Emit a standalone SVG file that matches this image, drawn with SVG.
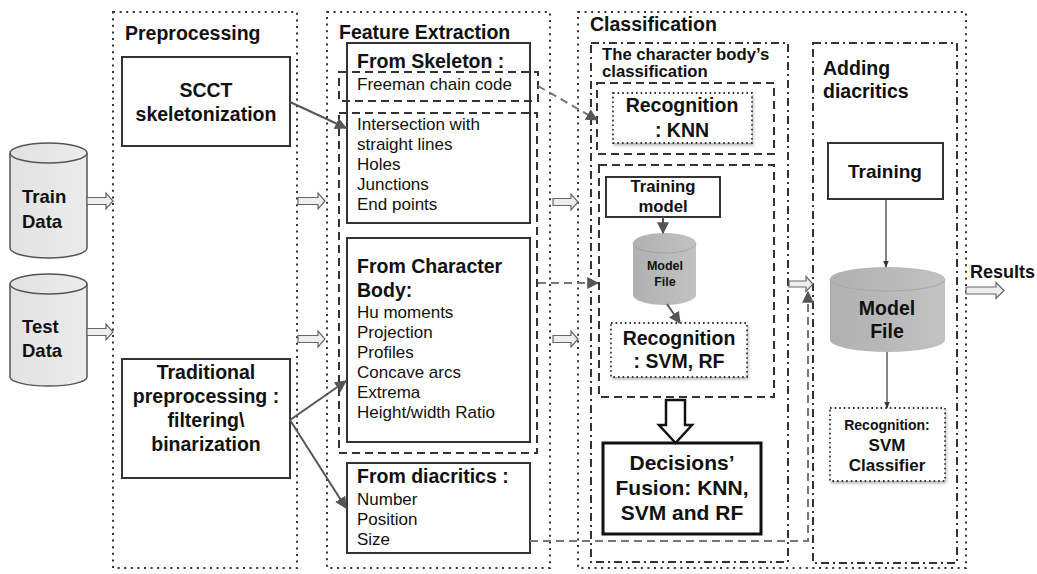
<svg xmlns="http://www.w3.org/2000/svg" width="1037" height="574" viewBox="0 0 1037 574">
  <style>
    text { font-family: "Liberation Sans", Arial, sans-serif; fill: #111; }
    .b { font-weight: bold; }
    .h { font-size: 19.5px; font-weight: bold; }
    .r { font-size: 17px; }
    .c { text-anchor: middle; }
    .stage { fill: none; stroke: #333; stroke-width: 2; stroke-dasharray: 2 4.6; }
    .solid { fill: #fff; stroke: #333; stroke-width: 2; }
    .dash { fill: none; stroke: #333; stroke-width: 2; stroke-dasharray: 8 5; }
    .dashdot { fill: none; stroke: #333; stroke-width: 2; stroke-dasharray: 8 4 2 4; }
    .rec { fill: #fff; stroke: #333; stroke-width: 1.8; stroke-dasharray: 1.6 3; filter: url(#shadow); }
    .hollow { fill: #eeeeee; stroke: #666; stroke-width: 1.2; }
    .link { fill: none; stroke: #555; stroke-width: 2; marker-end: url(#arrGray); }
    .thin { fill: none; stroke: #333; stroke-width: 1.2; marker-end: url(#arrBlack); }
    .glink { fill: none; stroke: #777; stroke-width: 2; stroke-dasharray: 8 5; marker-end: url(#arrGray); }
  </style>
  <defs>
    <marker id="arrGray" viewBox="0 0 10 10" refX="9" refY="5" markerWidth="6" markerHeight="6" orient="auto" markerUnits="strokeWidth">
      <path d="M0,0 L10,5 L0,10 Z" fill="#555"/>
    </marker>
    <marker id="arrBlack" viewBox="0 0 10 10" refX="9" refY="5" markerWidth="6" markerHeight="6" orient="auto" markerUnits="strokeWidth">
      <path d="M0,1 L10,5 L0,9 Z" fill="#333"/>
    </marker>
    <filter id="shadow" x="-10%" y="-10%" width="130%" height="140%">
      <feDropShadow dx="1" dy="2" stdDeviation="1.6" flood-color="#000" flood-opacity="0.3"/>
    </filter>
    <linearGradient id="lightCyl" x1="0" x2="1" y1="0" y2="0">
      <stop offset="0" stop-color="#e2e2e2"/>
      <stop offset="1" stop-color="#ececec"/>
    </linearGradient>
    <linearGradient id="darkCyl" x1="0" x2="1" y1="0" y2="0">
      <stop offset="0" stop-color="#b0b0b0"/>
      <stop offset="1" stop-color="#c2c2c2"/>
    </linearGradient>
  </defs>

  <!-- stage frames -->
  <g id="preprocessing">
    <rect class="stage" x="113" y="12" width="184" height="556"/>
    <text class="h" x="125" y="40">Preprocessing</text>
  </g>
  <g id="feature-extraction">
    <rect class="stage" x="327" y="12" width="223" height="556"/>
    <text class="h" x="339" y="39">Feature Extraction</text>
  </g>
  <g id="classification">
    <rect class="stage" x="578" y="12" width="388" height="556"/>
    <text class="h" x="590" y="31">Classification</text>
  </g>

  <!-- input data -->
  <g id="train-data">
    <path d="M10,153 A38.5,10 0 0 1 87,153 V248 A38.5,10 0 0 1 10,248 Z" fill="url(#lightCyl)" stroke="#555" stroke-width="1.5"/>
    <path d="M10,153 A38.5,10 0 0 0 87,153" fill="none" stroke="#555" stroke-width="1.5"/>
    <text class="b" x="22" y="203" font-size="18.5">Train</text>
    <text class="b" x="22" y="228" font-size="18.5">Data</text>
  </g>
  <g id="test-data">
    <path d="M10,284 A38.5,10 0 0 1 87,284 V377 A38.5,9 0 0 1 10,377 Z" fill="url(#lightCyl)" stroke="#555" stroke-width="1.5"/>
    <path d="M10,284 A38.5,10 0 0 0 87,284" fill="none" stroke="#555" stroke-width="1.5"/>
    <text class="b" x="22" y="333" font-size="18.5">Test</text>
    <text class="b" x="22" y="357" font-size="18.5">Data</text>
  </g>

  <!-- preprocessing steps -->
  <g id="scct">
    <rect class="solid" x="122" y="57" width="168" height="89"/>
    <text class="h c" x="206" y="97">SCCT</text>
    <text class="h c" x="206" y="121">skeletonization</text>
  </g>
  <g id="traditional">
    <rect class="solid" x="122" y="359" width="168" height="119"/>
    <text class="h c" x="206" y="379">Traditional</text>
    <text class="h c" x="206" y="403">preprocessing :</text>
    <text class="h c" x="206" y="427">filtering\</text>
    <text class="h c" x="206" y="451">binarization</text>
  </g>

  <!-- feature groups -->
  <g id="from-skeleton">
    <rect class="solid" x="347" y="43" width="183" height="180"/>
    <text class="h" x="357" y="68">From Skeleton :</text>
    <text class="r" x="357" y="130">Intersection with</text>
    <text class="r" x="357" y="150">straight lines</text>
    <text class="r" x="357" y="170">Holes</text>
    <text class="r" x="357" y="190">Junctions</text>
    <text class="r" x="357" y="210">End points</text>
  </g>
  <g id="from-body">
    <rect class="solid" x="347" y="238" width="183" height="204"/>
    <text class="h" x="357" y="273">From Character</text>
    <text class="h" x="357" y="297">Body:</text>
    <text class="r" x="357" y="318">Hu moments</text>
    <text class="r" x="357" y="338">Projection</text>
    <text class="r" x="357" y="358">Profiles</text>
    <text class="r" x="357" y="378">Concave arcs</text>
    <text class="r" x="357" y="398">Extrema</text>
    <text class="r" x="357" y="418">Height/width Ratio</text>
  </g>
  <g id="freeman">
    <rect class="dash" x="339" y="72" width="199" height="29"/>
    <text class="r" x="357" y="90">Freeman chain code</text>
  </g>
  <g id="shape-features">
    <rect class="dash" x="339" y="113" width="198" height="340"/>
  </g>
  <g id="from-diacritics">
    <rect class="solid" x="347" y="463" width="183" height="90"/>
    <text class="h" x="357" y="483">From diacritics :</text>
    <text class="r" x="357" y="505">Number</text>
    <text class="r" x="357" y="525">Position</text>
    <text class="r" x="357" y="545">Size</text>
  </g>

  <!-- body classification -->
  <g id="body-classification">
    <rect class="dashdot" x="591" y="43" width="197" height="519"/>
    <text class="b" x="602" y="60" font-size="16.7">The character body’s</text>
    <text class="b" x="602" y="77" font-size="16.7">classification</text>
  </g>
  <g id="knn-branch">
    <rect class="dash" x="597" y="83" width="177" height="71"/>
  </g>
  <g id="recognition-knn">
    <rect class="rec" x="613" y="93" width="139" height="50"/>
    <text class="h c" x="682" y="112">Recognition</text>
    <text class="h c" x="682" y="137">: KNN</text>
  </g>
  <g id="svm-rf-branch">
    <rect class="dash" x="599" y="165" width="175" height="232"/>
  </g>
  <g id="training-model">
    <rect class="solid" x="606" y="177" width="114" height="40" stroke-width="1.5"/>
    <text class="b c" x="663" y="192" font-size="16.7">Training</text>
    <text class="b c" x="663" y="212" font-size="16.7">model</text>
  </g>
  <g id="model-file-small">
    <path d="M633,243 A31.5,10 0 0 1 696,243 V295 A31.5,10 0 0 1 633,295 Z" fill="url(#darkCyl)"/>
    <path d="M633,243 A31.5,10 0 0 0 696,243" fill="none" stroke="#a2a2a2" stroke-width="1"/>
    <text class="b c" x="665" y="270" font-size="12.5">Model</text>
    <text class="b c" x="665" y="286" font-size="12.5">File</text>
  </g>
  <g id="recognition-svm-rf">
    <rect class="rec" x="611" y="323" width="136" height="54"/>
    <text class="h c" x="679" y="345">Recognition</text>
    <text class="h c" x="679" y="368">: SVM, RF</text>
  </g>
  <g id="fusion">
    <rect x="603" y="443" width="158" height="91" fill="#fff" stroke="#111" stroke-width="3"/>
    <text class="b c" x="682" y="470" font-size="21">Decisions’</text>
    <text class="b c" x="682" y="495" font-size="21">Fusion: KNN,</text>
    <text class="b c" x="682" y="520" font-size="21">SVM and RF</text>
  </g>

  <!-- diacritics stage -->
  <g id="adding-diacritics">
    <rect class="dashdot" x="813" y="43" width="144" height="520"/>
    <text class="h" x="823" y="75">Adding</text>
    <text class="h" x="823" y="98">diacritics</text>
  </g>
  <g id="training">
    <rect class="solid" x="828" y="143" width="115" height="56" stroke-width="1.5"/>
    <text class="b c" x="885" y="178" font-size="19">Training</text>
  </g>
  <g id="model-file">
    <path d="M830,279 A57.5,12 0 0 1 945,279 V340 A57.5,12 0 0 1 830,340 Z" fill="url(#darkCyl)"/>
    <path d="M830,279 A57.5,12 0 0 0 945,279" fill="none" stroke="#a8a8a8" stroke-width="1"/>
    <text class="h c" x="887" y="315">Model</text>
    <text class="h c" x="887" y="338">File</text>
  </g>
  <g id="recognition-svm">
    <rect class="rec" x="830" y="408" width="115" height="73"/>
    <text class="b c" x="887" y="430" font-size="14">Recognition:</text>
    <text class="b c" x="887" y="451" font-size="17">SVM</text>
    <text class="b c" x="887" y="471" font-size="17">Classifier</text>
  </g>
  <g id="results">
    <text class="b" x="970" y="278" font-size="18">Results</text>
  </g>

  <!-- connectors -->
  <g id="connectors">
    <!-- block arrows between stages -->
    <path class="hollow" d="M87,197.5 H106 V193 L113,201 L106,209 V204.5 H87 Z"/>
    <path class="hollow" d="M87,328.5 H106 V324 L113,332 L106,340 V335.5 H87 Z"/>
    <path class="hollow" d="M298,197.5 H318 V193 L325,201 L318,209 V204.5 H298 Z"/>
    <path class="hollow" d="M298,335.5 H318 V331 L325,339 L318,347 V342.5 H298 Z"/>
    <path class="hollow" d="M553,198.5 H571 V194 L578,202 L571,210 V205.5 H553 Z"/>
    <path class="hollow" d="M553,335.5 H571 V331 L578,339 L571,347 V342.5 H553 Z"/>
    <path class="hollow" d="M789,281 H806 V276.5 L813,284 L806,291.5 V287 H789 Z"/>
    <path class="hollow" d="M966,287 H996 V282.5 L1004,290.5 L996,298.5 V294 H966 Z"/>
    <!-- fusion arrow -->
    <path d="M666,400 H685 V425 H692 L675.5,443 L659,425 H666 Z" fill="#fff" stroke="#111" stroke-width="2.5" stroke-linejoin="miter"/>
    <!-- preprocessing to features -->
    <line class="link" x1="290" y1="102" x2="346" y2="128"/>
    <line class="link" x1="290" y1="420" x2="346" y2="381"/>
    <line class="link" x1="290" y1="420" x2="346" y2="508"/>
    <!-- model training flow -->
    <line class="link" x1="663" y1="217" x2="663" y2="233"/>
    <line class="link" x1="667" y1="304" x2="680" y2="323"/>
    <line class="thin" x1="886" y1="199" x2="886" y2="267"/>
    <line class="thin" x1="887" y1="352" x2="887" y2="408"/>
    <!-- feature sets to classifiers -->
    <line class="glink" x1="538" y1="86" x2="597" y2="120"/>
    <line class="glink" x1="538" y1="283" x2="598" y2="283"/>
    <path class="glink" d="M530,541 H808 V292"/>
  </g>
</svg>
